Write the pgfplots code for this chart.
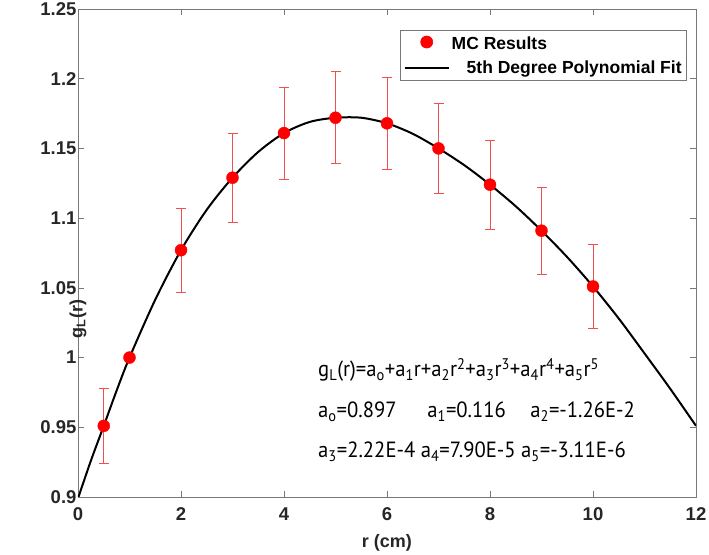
\documentclass[border=0pt]{standalone}
\usepackage{fontspec}
\setmainfont{Liberation Sans}
\newfontfamily\annfont{PT Sans}[FakeStretch=0.94]
\usepackage{pgfplots}
\pgfplotsset{compat=1.18}
\definecolor{axgray}{RGB}{120,120,120}
\definecolor{txtgray}{RGB}{38,38,38}
\definecolor{mcred}{RGB}{255,0,0}
\definecolor{barred}{RGB}{240,80,80}
\begin{document}
\begin{tikzpicture}
\begin{axis}[
 name=ax,
 width=618pt, height=488pt, scale only axis,
 xmin=0, xmax=12, ymin=0.9, ymax=1.25,
 xtick={0,2,4,6,8,10,12},
 xticklabels={0,2,4,6,8,10,12},
 ytick={0.9,0.95,1,1.05,1.1,1.15,1.2,1.25},
 yticklabels={0.9,0.95,1,1.05,1.1,1.15,1.2,1.25},
 /pgf/number format/assume math mode=true,
 tick label style={font=\fontsize{18.5}{21}\selectfont\bfseries, text=txtgray},
 xticklabel style={yshift=-7pt},
 yticklabel style={xshift=2pt},
 axis line style={axgray, line width=0.7pt},
 tick style={axgray, line width=0.7pt},
 major tick length=6pt, tick align=inside,
 xlabel={r (cm)}, ylabel={g\textsubscript{L}(r)},
 label style={font=\fontsize{18}{21}\selectfont\bfseries, text=txtgray},
 xlabel style={at={(axis description cs:0.5,0)}, anchor=center, yshift=-46pt},
 ylabel style={at={(axis description cs:0,0.5)}, anchor=center, xshift=-66pt},
 legend style={at={(rel axis cs:0.9854,0.957)}, anchor=north east,
   draw=axgray, line width=0.7pt, fill=white,
   font=\fontsize{17.5}{21}\selectfont\bfseries, text=black,
   inner xsep=3pt, inner ysep=4pt, row sep=6pt},
 legend cell align=left,
]
\addplot[only marks, mark=*, mark size=6pt, mcred,
  mark options={fill=mcred, draw=mcred},
  legend image code/.code={\fill[mcred] (22pt,0) circle (6pt);},
  error bars/.cd, y dir=both, y explicit,
  error bar style={barred, line width=0.7pt},
  error mark options={rotate=90, barred, mark size=5pt, line width=0.7pt}]
 coordinates {
 (0.5,0.951) +- (0,0.027)
 (1,1.000) +- (0,0.000)
 (2,1.077) +- (0,0.030)
 (3,1.129) +- (0,0.032)
 (4,1.161) +- (0,0.033)
 (5,1.172) +- (0,0.033)
 (6,1.168) +- (0,0.033)
 (7,1.150) +- (0,0.032)
 (8,1.124) +- (0,0.032)
 (9,1.091) +- (0,0.031)
 (10,1.051) +- (0,0.030)
 };
\addlegendentry{MC Results}
\addplot[black, line width=2pt, smooth, no marks,
  legend image code/.code={\draw[black, line width=2pt] (0pt,0pt) -- (44pt,0pt);}]
 coordinates {
 (0,0.899) (0.25,0.926) (0.5,0.951) (0.75,0.9763) (1,1.000) (1.5,1.0415)
 (2,1.077) (2.5,1.106) (3,1.129) (3.5,1.1475) (4,1.161) (4.5,1.169)
 (5,1.172) (5.5,1.172) (6,1.168) (6.5,1.1605) (7,1.150) (7.5,1.138)
 (8,1.124) (8.5,1.1085) (9,1.091) (9.5,1.072) (10,1.051) (10.5,1.028)
 (11,1.003) (11.5,0.9776) (12,0.951)
 };
\addlegendentry{\hspace{15pt}5th Degree Polynomial Fit}
\begin{scope}[every node/.style={anchor=base west, inner sep=0pt, text=black, font=\annfont\fontsize{22}{26}\selectfont}]
\node at (axis cs:4.66,0.9861) {g\textsubscript{L}(r)=a\textsubscript{o}+a\textsubscript{1}r+a\textsubscript{2}r\textsuperscript{2}+a\textsubscript{3}r\textsuperscript{3}+a\textsubscript{4}r\textsuperscript{4}+a\textsubscript{5}r\textsuperscript{5}};
\node at (axis cs:4.66,0.9567) {a\textsubscript{o}=0.897};
\node at (axis cs:6.78,0.9567) {a\textsubscript{1}=0.116};
\node at (axis cs:8.78,0.9567) {a\textsubscript{2}=-1.26E-2};
\node at (axis cs:4.66,0.928) {a\textsubscript{3}=2.22E-4 a\textsubscript{4}=7.90E-5 a\textsubscript{5}=-3.11E-6};
\end{scope}
\end{axis}
\pgfresetboundingbox
\path[use as bounding box] ([xshift=-78pt,yshift=-58pt]ax.south west) rectangle ([xshift=13pt,yshift=9pt]ax.north east);
\end{tikzpicture}
\end{document}
